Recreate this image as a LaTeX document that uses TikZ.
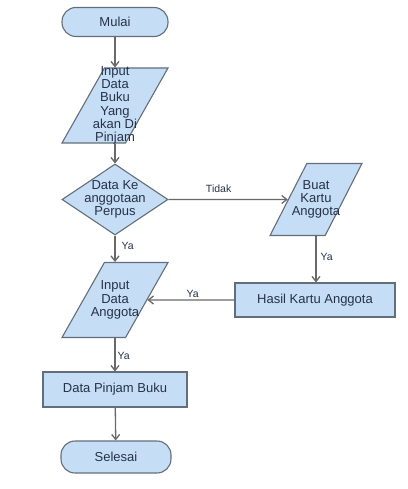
\documentclass[tikz,border=0pt]{standalone}
\usepackage{fontspec}
\setmainfont{Liberation Sans}
\usetikzlibrary{shapes.geometric,arrows.meta,calc}
\definecolor{boxfill}{RGB}{197,222,245}
\definecolor{boxline}{RGB}{100,110,122}
\definecolor{arrowgray}{RGB}{105,105,105}
\definecolor{textblue}{RGB}{38,50,72}
\begin{document}
\begin{tikzpicture}[x=1pt, y=-1pt,
  shape base/.style = {draw = boxline, fill = boxfill, line width = 1.1pt, inner sep = 1pt},
  txt/.style = {align = center, text = textblue, font = \fontsize{13}{13.3}\selectfont},
  terminal/.style = {shape base, rectangle, rounded corners = 14pt, minimum height = 29pt},
  process/.style = {shape base, rectangle, minimum height = 35pt},
  io/.style = {shape base, trapezium, trapezium left angle = 74, trapezium right angle = 106,
    trapezium stretches = true, minimum height = 75pt},
  decision/.style = {shape base, diamond, minimum width = 106pt, minimum height = 71pt},
  flow/.style = {draw = arrowgray, line width = 1.3pt, -{Straight Barb[length=5pt, width=8pt]}},
  lbl/.style = {text = textblue, font = \fontsize{10.5}{12}\selectfont, inner sep = 2pt}]
\useasboundingbox (0,0) rectangle (407,489);
\node[terminal, minimum width = 106pt, label = {[txt]center:Mulai}] at (115,22) (mulai) {};
\node[io, minimum width = 106pt, label = {[txt]center:{Input\\Data\\Buku\\Yang\\akan Di\\Pinjam}}] at (115,105.5) (buku) {\strut};
\node[decision, label = {[txt]center:{Data Ke\\anggotaan\\Perpus}}] at (115,199.5) (cek) {};
\node[io, minimum width = 92pt, minimum height = 72pt, label = {[txt]center:{Buat\\Kartu\\Anggota}}] at (316,199.5) (buat) {\strut};
\node[process, minimum width = 160pt, minimum height = 34pt, label = {[txt]center:Hasil Kartu Anggota}] at (315,300) (hasil) {};
\node[io, minimum width = 106pt, label = {[txt]center:{Input\\Data\\Anggota}}] at (115,300) (anggota) {\strut};
\node[process, minimum width = 144pt, label = {[txt]center:Data Pinjam Buku}] at (115,389.5) (pinjam) {};
\node[terminal, minimum width = 110pt, minimum height = 32pt, label = {[txt]center:Selesai}] at (116,457) (selesai) {};
% midpoints of the slanted sides
\coordinate (buat in) at ($(buat.top left corner)!0.5!(buat.bottom left corner)$);
\coordinate (anggota in) at ($(anggota.top right corner)!0.5!(anggota.bottom right corner)$);
\draw[flow] (mulai) -- (buku);
\draw[flow] (buku) -- (cek);
\draw[flow] (cek.east) -- (buat in) node[lbl, pos = 0.42, above, yshift = 4pt] {Tidak};
\draw[flow] (buat.south) -- (buat.south |- hasil.north) node[lbl, pos = 0.45, right, xshift = 2pt] {Ya};
\draw[flow] (hasil.west) -- (anggota in) node[lbl, pos = 0.48, above] {Ya};
\draw[flow] (cek.south) -- (cek.south |- anggota.north) node[lbl, pos = 0.4, right, xshift = 4pt] {Ya};
\draw[flow] (anggota.south -| pinjam.north) -- (pinjam.north) node[lbl, pos = 0.55, right] {Ya};
\draw[flow] (pinjam) -- (selesai);
\end{tikzpicture}
\end{document}
